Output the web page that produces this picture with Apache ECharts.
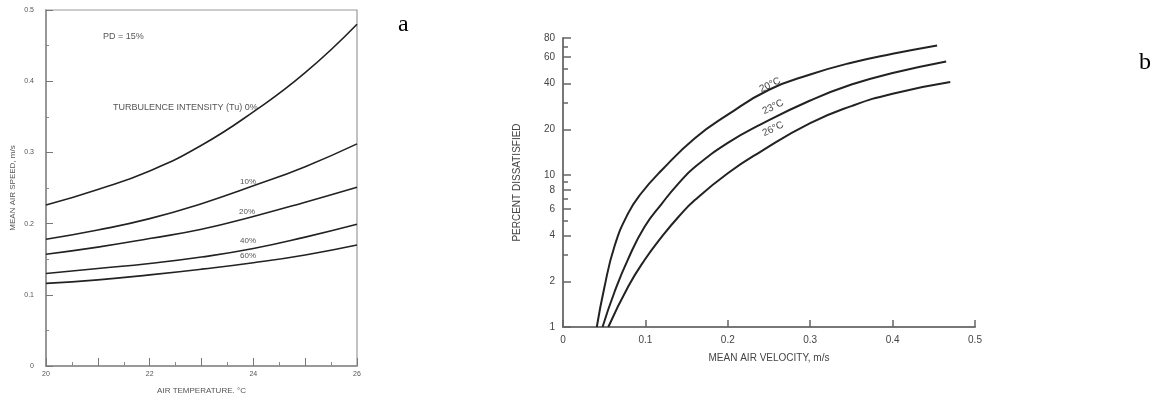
<!DOCTYPE html>
<html>
<head>
<meta charset="utf-8">
<title>Draft rate charts</title>
<script src="https://cdn.jsdelivr.net/npm/echarts@6/dist/echarts.min.js"></script>
<style>
  html, body { margin: 0; padding: 0; background: #fff; }
  #chart { width: 1154px; height: 393px; }
</style>
</head>
<body>
<div id="chart"></div>
<script>
// (a) mean air speed at PD = 15%, per turbulence intensity
const airTemp = [20, 21, 22, 23, 24, 25, 26];
const tu0 = [0.226, 0.248, 0.274, 0.310, 0.357, 0.412, 0.480];
const tu10 = [0.178, 0.191, 0.207, 0.228, 0.253, 0.280, 0.312];
const tu20 = [0.157, 0.167, 0.179, 0.192, 0.210, 0.230, 0.251];
const tu40 = [0.130, 0.137, 0.144, 0.153, 0.165, 0.181, 0.199];
const tu60 = [0.116, 0.121, 0.128, 0.136, 0.145, 0.156, 0.170];
const tempLabels = [20, 22, 24, 26];

// (b) percent dissatisfied vs mean air velocity
const vel20 = [0.041, 0.05, 0.0625, 0.079, 0.095, 0.12, 0.16, 0.2, 0.25, 0.3, 0.35, 0.4, 0.454];
const pd20 = [1, 1.8, 3.4, 5.6, 7.6, 10.8, 17.5, 25, 36.5, 46, 55, 63, 71.5];
const vel23 = [0.048, 0.0625, 0.079, 0.099, 0.12, 0.14, 0.16, 0.2, 0.24, 0.3, 0.35, 0.4, 0.465];
const pd23 = [1, 1.7, 2.8, 4.57, 6.5, 8.8, 11.3, 16.3, 21.6, 31, 39.5, 47, 56];
const vel26 = [0.055, 0.079, 0.099, 0.12, 0.14, 0.16, 0.2, 0.24, 0.3, 0.35, 0.4, 0.47];
const pd26 = [1, 1.84, 2.76, 3.93, 5.3, 6.85, 10.3, 14.3, 22, 28.5, 34.4, 41];
const pdLabels = [1, 2, 4, 6, 8, 10, 20, 40, 60, 80];
const pdMinor = [3, 5, 7, 9, 30, 50, 70];

function pairs(xs, ys) {
  return xs.map(function (x, i) { return [x, ys[i]]; });
}

function curve(name, xs, ys, idx) {
  return {
    name: name,
    type: "line",
    xAxisIndex: idx,
    yAxisIndex: idx,
    data: pairs(xs, ys),
    smooth: true,
    symbol: "none",
    silent: true,
    animation: false,
    lineStyle: { color: "#222", width: idx === 0 ? 1.6 : 2 }
  };
}

const smallFont = { fontFamily: "Liberation Sans", fontSize: 7, color: "#555" };
const nameFont = { fontFamily: "Liberation Sans", fontSize: 8, color: "#555" };
const midFont = { fontFamily: "Liberation Sans", fontSize: 10, color: "#444" };
// note text inside panel (a)
const noteFont = "9px Liberation Sans";
const tagFont = "8px Liberation Sans";

const chart = echarts.init(document.getElementById("chart"));
chart.setOption({
  backgroundColor: "#fff",
  grid: [
    { left: 46, top: 10, width: 311, height: 356, show: true, borderColor: "#999", borderWidth: 1.2, outerBoundsMode: "none" },
    { left: 563, top: 38, width: 412, height: 289, outerBoundsMode: "none" }
  ],
  xAxis: [
    {
      gridIndex: 0,
      type: "value",
      min: 20,
      max: 26,
      interval: 1,
      name: "AIR TEMPERATURE, °C",
      nameLocation: "middle",
      nameGap: 21,
      nameTextStyle: nameFont,
      axisLine: { lineStyle: { color: "#888", width: 1.5 } },
      axisTick: { inside: true, length: 8, lineStyle: { color: "#777" } },
      minorTick: { show: true, splitNumber: 2, length: 4, lineStyle: { color: "#888" } },
      axisLabel: Object.assign({ margin: 5, customValues: tempLabels }, smallFont),
      splitLine: { show: false }
    },
    {
      gridIndex: 1,
      type: "value",
      min: 0,
      max: 0.5,
      interval: 0.1,
      name: "MEAN AIR VELOCITY, m/s",
      nameLocation: "middle",
      nameGap: 26,
      nameTextStyle: midFont,
      axisLine: { lineStyle: { color: "#777", width: 2 } },
      axisTick: { inside: true, length: 7, lineStyle: { color: "#666", width: 1.5 } },
      axisLabel: Object.assign({ margin: 8 }, midFont),
      splitLine: { show: false }
    }
  ],
  yAxis: [
    {
      gridIndex: 0,
      type: "value",
      min: 0,
      max: 0.5,
      interval: 0.1,
      name: "MEAN AIR SPEED, m/s",
      nameLocation: "middle",
      nameGap: 29,
      nameTextStyle: nameFont,
      axisLine: { lineStyle: { color: "#888", width: 1.5 } },
      axisTick: { inside: true, length: 7, lineStyle: { color: "#777" } },
      minorTick: { show: true, splitNumber: 2, length: 3, lineStyle: { color: "#888" } },
      axisLabel: Object.assign({ margin: 12 }, smallFont),
      splitLine: { show: false }
    },
    {
      gridIndex: 1,
      type: "log",
      logBase: 10,
      min: 1,
      max: 80,
      name: "PERCENT DISSATISFIED",
      nameLocation: "middle",
      nameGap: 41,
      nameTextStyle: midFont,
      axisLine: { lineStyle: { color: "#777", width: 2 } },
      axisTick: { inside: true, length: 8, customValues: pdLabels, lineStyle: { color: "#666", width: 1.5 } },
      axisLabel: Object.assign({ margin: 8, customValues: pdLabels }, midFont),
      splitLine: { show: false }
    },
    {
      // only the short ticks between the labelled ones
      gridIndex: 1,
      type: "log",
      logBase: 10,
      min: 1,
      max: 80,
      position: "left",
      axisLine: { show: false },
      axisTick: { inside: true, length: 5, customValues: pdMinor, lineStyle: { color: "#666", width: 1.5 } },
      axisLabel: { show: false },
      splitLine: { show: false }
    }
  ],
  series: [
    curve("0%", airTemp, tu0, 0),
    curve("10%", airTemp, tu10, 0),
    curve("20%", airTemp, tu20, 0),
    curve("40%", airTemp, tu40, 0),
    curve("60%", airTemp, tu60, 0),
    curve("20°C", vel20, pd20, 1),
    curve("23°C", vel23, pd23, 1),
    curve("26°C", vel26, pd26, 1)
  ],
  graphic: [
    { type: "text", x: 103, y: 37, style: { text: "PD = 15%", font: noteFont, fill: "#555", textVerticalAlign: "middle" } },
    { type: "text", x: 113, y: 108, style: { text: "TURBULENCE INTENSITY (Tu) 0%", font: noteFont, fill: "#555", textVerticalAlign: "middle" } },
    { type: "text", x: 240, y: 182, style: { text: "10%", font: tagFont, fill: "#555", textVerticalAlign: "middle" } },
    { type: "text", x: 239, y: 212, style: { text: "20%", font: tagFont, fill: "#555", textVerticalAlign: "middle" } },
    { type: "text", x: 240, y: 241, style: { text: "40%", font: tagFont, fill: "#555", textVerticalAlign: "middle" } },
    { type: "text", x: 240, y: 256, style: { text: "60%", font: tagFont, fill: "#555", textVerticalAlign: "middle" } },
    { type: "text", x: 770, y: 85, rotation: 0.45, style: { text: "20°C", font: "10px Liberation Sans", fill: "#444", textAlign: "center", textVerticalAlign: "middle" } },
    { type: "text", x: 773, y: 107, rotation: 0.45, style: { text: "23°C", font: "10px Liberation Sans", fill: "#444", textAlign: "center", textVerticalAlign: "middle" } },
    { type: "text", x: 773, y: 129, rotation: 0.45, style: { text: "26°C", font: "10px Liberation Sans", fill: "#444", textAlign: "center", textVerticalAlign: "middle" } },
    { type: "text", x: 398, y: 25, style: { text: "a", font: "24px Liberation Serif", fill: "#000", textVerticalAlign: "middle" } },
    { type: "text", x: 1139, y: 63, style: { text: "b", font: "24px Liberation Serif", fill: "#000", textVerticalAlign: "middle" } }
  ]
});
</script>
</body>
</html>
